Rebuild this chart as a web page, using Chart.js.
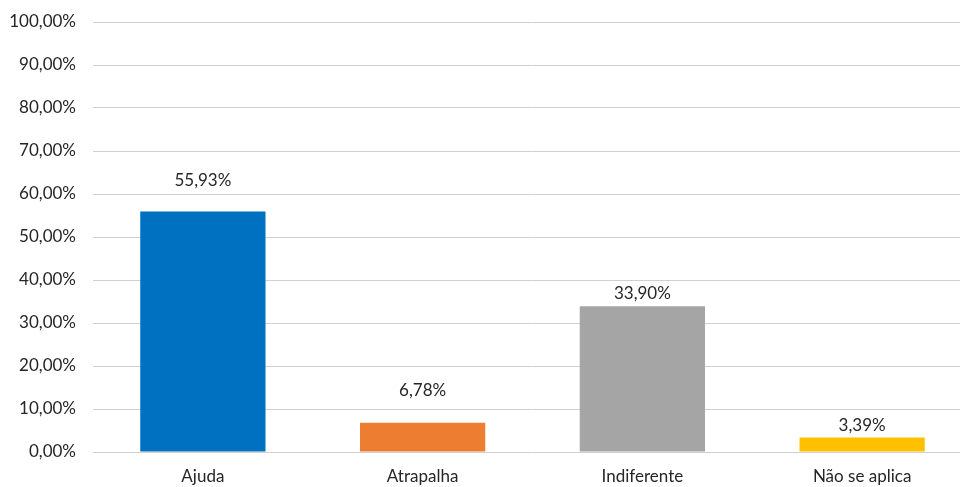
<!DOCTYPE html>
<html>
<head>
<meta charset="utf-8">
<script src="https://cdn.jsdelivr.net/npm/chart.js@4"></script>
<style>
  html, body { margin: 0; padding: 0; background: #fff; overflow: hidden; }
  #wrap { width: 972px; height: 487px; }
</style>
</head>
<body>
<div id="wrap"><canvas id="myChart" width="972" height="487"></canvas></div>
<script>
const categories = ['Ajuda', 'Atrapalha', 'Indiferente', 'Não se aplica'];
const values = [55.93, 6.78, 33.90, 3.39];
const barColors = ['#0070C0', '#ED7D31', '#A5A5A5', '#FFC000'];

const fmt = v => v.toFixed(2).replace('.', ',') + '%';
const textColor = '#262626';

// value labels over the bars, lifted a bit more on some of them
const labelLift = [31, 32, 13, 12];
const valueLabels = {
  id: 'valueLabels',
  afterDatasetsDraw(chart) {
    const ctx = chart.ctx;
    const meta = chart.getDatasetMeta(0);
    ctx.save();
    ctx.font = '17px Lato';
    ctx.fillStyle = textColor;
    ctx.textAlign = 'center';
    ctx.textBaseline = 'middle';
    meta.data.forEach((bar, i) => {
      ctx.fillText(fmt(values[i]), bar.x, bar.y - labelLift[i]);
    });
    ctx.restore();
  }
};

const ctx = document.getElementById('myChart');

new Chart(ctx, {
  type: 'bar',
  data: {
    labels: categories,
    datasets: [{
      data: values,
      backgroundColor: barColors,
      barPercentage: 0.57,
      categoryPercentage: 1
    }]
  },
  options: {
    responsive: false,
    animation: false,
    layout: { padding: { top: 22, right: 0, left: 0, bottom: 0 } },
    plugins: {
      legend: { display: false },
      tooltip: { enabled: false }
    },
    scales: {
      x: {
        afterFit(scale) { scale.height = 35; },
        grid: { display: false, drawTicks: false },
        border: { display: false },
        ticks: {
          color: textColor,
          font: { family: 'Lato', size: 17 },
          padding: 14
        }
      },
      y: {
        min: 0,
        max: 100,
        afterFit(scale) {
          scale.width = 93;
          scale.paddingTop = 0;
          scale.paddingBottom = 0;
        },
        grid: { color: '#D0D0D0', lineWidth: 1, drawTicks: false },
        border: { display: false },
        ticks: {
          stepSize: 10,
          color: textColor,
          font: { family: 'Lato', size: 17 },
          padding: 17,
          callback: v => fmt(v)
        }
      }
    }
  },
  plugins: [valueLabels]
});
</script>
</body>
</html>
